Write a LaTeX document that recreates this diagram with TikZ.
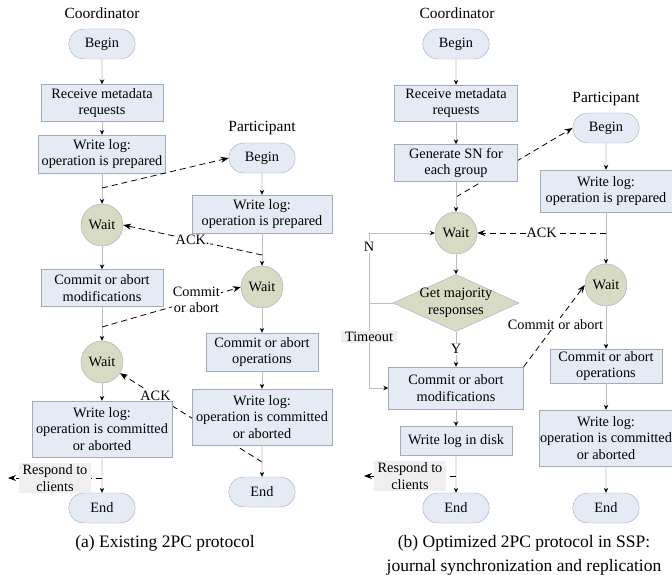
\documentclass[tikz,border=0pt]{standalone}
\usepackage{fontspec}
\setmainfont{Liberation Serif}
\usetikzlibrary{arrows.meta,shapes,positioning,calc,backgrounds}

\definecolor{boxfill}{HTML}{E5EBF5}
\definecolor{boxline}{HTML}{A3ABB9}
\definecolor{waitfill}{HTML}{D8DBC4}
\definecolor{flowline}{HTML}{BDBDBD}
\definecolor{greyfill}{HTML}{EFEFEF}

\begin{document}
\begin{tikzpicture}
[x=1pt,y=-1pt%
,every node/.style={font=\fontsize{14.3}{16.8}\selectfont,%
                    align=center}%
,heading/.style={font=\fontsize{15.5}{18}\selectfont}%
,caption/.style={font=\fontsize{17.5}{24}\selectfont}%
,term/.style={rounded rectangle,%
              draw=boxline,%
              fill=boxfill,%
              minimum width=73,%
              minimum height=30}%
,proc/.style={rectangle,%
              draw=boxline,%
              fill=boxfill,%
              inner sep=1pt}%
,waitc/.style={circle,%
               draw=boxline,%
               fill=waitfill,%
               minimum size=42,%
               inner sep=0pt}%
,decide/.style={diamond,%
                draw=boxline,%
                fill=waitfill,%
                aspect=2.2,%
                inner xsep=-14pt,%
                inner ysep=-5pt,%
                minimum width=126,%
                minimum height=57}%
,flow/.style={draw=flowline,%
              line width=0.7pt,%
              -{Stealth[black,length=5pt,width=4.5pt]}}%
,msg/.style={draw=black,%
             line width=0.8pt,%
             dash pattern=on 6pt off 4pt,%
             -{Stealth[length=8pt,width=6pt]}}%
,lbl/.style={fill=white,inner sep=1pt}%
,greylbl/.style={fill=greyfill,inner xsep=4pt,inner ysep=1.5pt}]

\useasboundingbox (0,0) rectangle (672,575);

% (a) existing 2PC
\node[heading] (ctitle) at (102,13) {Coordinator};
\node[term] (cbegin) at (102,44) {Begin};
\node[proc,minimum width=122,minimum height=37] (crecv) at (102,103) {Receive metadata\\requests};
\node[proc,minimum width=127,minimum height=38] (cprep) at (102,154) {Write log:\\operation is prepared};
\node[waitc] (cwait) at (102,225) {Wait};
\node[proc,minimum width=122,minimum height=37] (cmod) at (102,288) {Commit or abort\\modifications};
\node[waitc] (cwait2) at (102,362) {Wait};
\node[proc,minimum width=140,minimum height=56] (ccommit) at (102,429) {Write log:\\operation is committed\\or aborted};
\node[term] (cend) at (102,508) {End};

\node[heading] (ptitle) at (262,128) {Participant};
\node[term] (pbegin) at (262,158) {Begin};
\node[proc,minimum width=140,minimum height=38] (pprep) at (262,214) {Write log:\\operation is prepared};
\node[waitc] (pwait) at (262,287) {Wait};
\node[proc,minimum width=112,minimum height=38] (pops) at (262,352) {Commit or abort\\operations};
\node[proc,minimum width=140,minimum height=56] (pcommit) at (262,417) {Write log:\\operation is committed\\or aborted};
\node[term] (pend) at (262,492) {End};

\node[caption] (acap) at (165,543) {(a) Existing 2PC protocol};

\draw[flow] (cbegin) -- (crecv);
\draw[flow] (crecv) -- (cprep);
\draw[flow] (cprep) -- (cwait);
\draw[flow] (cwait) -- (cmod);
\draw[flow] (cmod) -- (cwait2);
\draw[flow] (cwait2) -- (ccommit);
\draw[flow] (ccommit) -- (cend);
\draw[flow] (pbegin) -- (pprep);
\draw[flow] (pprep) -- (pwait);
\draw[flow] (pwait) -- (pops);
\draw[flow] (pops) -- (pcommit);
\draw[flow] (pcommit) -- (pend);

\coordinate (c1) at (102,188);
\coordinate (p1) at (262,255);
\coordinate (c2) at (102,327);
\coordinate (p2) at (262,462);
\coordinate (c3) at (102,478);
\coordinate (cout) at (8,478);
\draw[msg] (c1) -- (pbegin.west);
\draw[msg] (p1) -- node[lbl]{ACK.} (cwait.east);
\draw[msg] (c2) -- node[lbl,pos=0.68]{Commit\\or abort} (pwait.west);
\begin{pgfonlayer}{background}
\draw[msg] (p2) -- node[lbl,pos=0.75]{ACK} (cwait2);
\end{pgfonlayer}
\draw[msg] (c3) -- node[greylbl]{Respond to\\clients} (cout);

% (b) optimized 2PC in SSP
\node[heading] (stitle) at (457,13) {Coordinator};
\node[term] (sbegin) at (456,44) {Begin};
\node[proc,minimum width=123,minimum height=36] (srecv) at (456,103) {Receive metadata\\requests};
\node[proc,minimum width=123,minimum height=37] (sgen) at (456,163) {Generate SN for\\each group};
\node[waitc] (swait) at (456,233) {Wait};
\node[decide] (smaj) at (456,303) {Get majority\\responses};
\node[proc,minimum width=135,minimum height=42] (smod) at (456,388) {Commit or abort\\modifications};
\node[proc,minimum width=112,minimum height=29] (sdisk) at (456,441) {Write log in disk};
\node[term] (send) at (456,508) {End};

\node[heading] (qtitle) at (606,99) {Participant};
\node[term] (qbegin) at (606,128) {Begin};
\node[proc,minimum width=132,minimum height=42] (qprep) at (606,191) {Write log:\\operation is prepared};
\node[waitc] (qwait) at (606,285) {Wait};
\node[proc,minimum width=112,minimum height=34] (qops) at (606,366) {Commit or abort\\operations};
\node[proc,minimum width=134,minimum height=56] (qcommit) at (606,438) {Write log:\\operation is committed\\or aborted};
\node[term] (qend) at (606,508) {End};

\node[caption] (bcap) at (524,555) {(b) Optimized 2PC protocol in SSP:\\journal synchronization and replication};

\draw[flow] (sbegin) -- (srecv);
\draw[flow] (srecv) -- (sgen);
\draw[flow] (sgen) -- (swait);
\draw[flow] (swait) -- (smaj);
\draw[flow] (smaj) -- node[lbl]{Y} (smod);
\draw[flow] (smod) -- (sdisk);
\draw[flow] (sdisk) -- (send);
\draw[flow] (qbegin) -- (qprep);
\draw[flow] (qprep) -- (qwait);
\draw[flow] (qwait) -- (qops);
\draw[flow] (qops) -- (qcommit);
\draw[flow] (qcommit) -- (qend);

\coordinate (sloop) at (369,303);
\draw[draw=flowline,line width=0.7pt] (smaj.west) -- (sloop);
\draw[flow] (sloop) |- node[lbl,pos=0.4]{N} (swait.west);
\draw[flow] (sloop) |- node[greylbl,pos=0.2]{Timeout} (smod.west);

\coordinate (s1) at (456,197);
\coordinate (q1) at (606,233);
\coordinate (s3) at (456,476);
\coordinate (sout) at (364,476);
\begin{pgfonlayer}{background}
\draw[msg] (s1) -- (qbegin.west);
\end{pgfonlayer}
\draw[msg] (q1) -- node[lbl]{ACK} (swait.east);
\draw[msg] (smod.north east) -- node[lbl,pos=0.52]{Commit or abort} (qwait.west);
\draw[msg] (s3) -- node[greylbl]{Respond to\\clients} (sout);
\end{tikzpicture}
\end{document}
